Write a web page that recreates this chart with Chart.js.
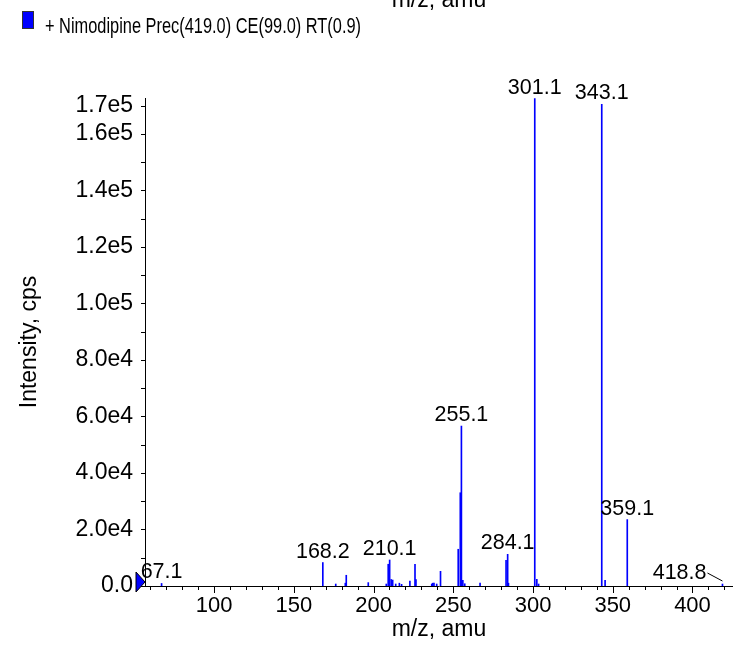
<!DOCTYPE html>
<html>
<head>
<meta charset="utf-8">
<script src="https://cdn.jsdelivr.net/npm/chart.js@4.4.0/dist/chart.umd.min.js"></script>
<style>
  html, body { margin: 0; padding: 0; background: #fff; }
</style>
</head>
<body>
<canvas id="spectrum" width="733" height="645"></canvas>
<script>
Chart.defaults.font.family = "'Liberation Sans', Arial, Helvetica, sans-serif";
Chart.defaults.font.size = 22;
Chart.defaults.color = 'black';

const seriesName = "+ Nimodipine Prec(419.0) CE(99.0) RT(0.9)";
const axisTitleX = "m/z, amu";
const axisTitleY = "Intensity, cps";

// peak list (m/z, cps)
const mzValues = [
  67.1, 168.2, 176.3, 182.3, 182.9, 196.7, 208.0, 209.2, 210.1, 211.1,
  212.0, 213.9, 216.2, 217.6, 222.8, 226.0, 226.6, 236.5, 237.1, 237.9,
  239.6, 242.0, 253.1, 254.4, 255.1, 256.0, 257.2, 266.8, 283.1, 284.1,
  284.6, 301.1, 302.4, 303.5, 343.1, 345.2, 359.1, 418.8
];
const intensities = [
  900, 8300, 700, 1000, 3800, 1200, 700, 7700, 9200, 2300,
  2100, 700, 1000, 600, 1700, 7700, 2300, 700, 1000, 1000,
  700, 5200, 13000, 33000, 56600, 2000, 800, 1000, 9100, 11200,
  1000, 172500, 2400, 700, 170500, 2000, 23500, 700
];
const labelledPeaks = [67.1, 168.2, 210.1, 255.1, 284.1, 301.1, 343.1, 359.1, 418.8];

const xTickLabels = [100, 150, 200, 250, 300, 350, 400];
const yTickValues = [0, 20000, 40000, 60000, 80000, 100000, 120000, 140000, 160000, 170000];
const yTickText = ['0.0', '2.0e4', '4.0e4', '6.0e4', '8.0e4', '1.0e5', '1.2e5', '1.4e5', '1.6e5', '1.7e5'];

const xMin = 56.7, xMax = 425.4, yMax = 172700;

const peakColor = '#0000ff';

const extras = {
  id: 'extras',
  afterDraw(chart) {
    const ctx = chart.ctx;
    const area = chart.chartArea;
    const xs = chart.scales.x, ys = chart.scales.y;
    ctx.save();

    // tick marks
    ctx.strokeStyle = '#000';
    ctx.lineWidth = 1;
    ctx.beginPath();
    xs.ticks.forEach(t => {
      const px = Math.round(xs.getPixelForValue(t.value)) + 0.5;
      const len = t.value % 50 === 0 ? 7 : 4;
      ctx.moveTo(px, area.bottom);
      ctx.lineTo(px, area.bottom + len);
    });
    ys.ticks.forEach(t => {
      const py = Math.round(ys.getPixelForValue(t.value)) + 0.5;
      ctx.moveTo(area.left - 4, py);
      ctx.lineTo(area.left, py);
    });
    ctx.stroke();

    // peak labels
    const meta = chart.getDatasetMeta(0);
    ctx.font = "21.5px 'Liberation Sans', Arial, sans-serif";
    ctx.fillStyle = '#000';
    ctx.textBaseline = 'alphabetic';
    labelledPeaks.forEach(mz => {
      const i = mzValues.indexOf(mz);
      if (i < 0) return;
      const el = meta.data[i];
      const txt = mz.toFixed(1);
      const w = ctx.measureText(txt).width;
      const base = el.y - 5;
      if (el.x + w / 2 > area.right - 4) {
        ctx.textAlign = 'right';
        ctx.fillText(txt, el.x - 16, base);
        ctx.beginPath();
        ctx.moveTo(el.x - 15, base - 6);
        ctx.lineTo(el.x, el.y - 3);
        ctx.strokeStyle = '#000';
        ctx.stroke();
      } else {
        ctx.textAlign = 'center';
        ctx.fillText(txt, el.x, base);
      }
    });

    // precursor marker at origin
    const y0 = ys.getPixelForValue(0) - 4;
    ctx.beginPath();
    ctx.moveTo(area.left - 9, y0 - 10);
    ctx.lineTo(area.left - 9, y0 + 10);
    ctx.lineTo(area.left, y0);
    ctx.closePath();
    ctx.fillStyle = peakColor;
    ctx.fill();
    ctx.strokeStyle = '#000';
    ctx.stroke();

    // legend (condensed)
    ctx.fillStyle = peakColor;
    ctx.fillRect(22, 11, 12, 18);
    ctx.strokeStyle = '#333';
    ctx.strokeRect(22.5, 11.5, 11, 17);
    ctx.font = "22px 'Liberation Sans', Arial, sans-serif";
    ctx.textAlign = 'left';
    ctx.fillStyle = '#000';
    const lw = ctx.measureText(seriesName).width;
    ctx.translate(45, 32.5);
    ctx.scale(316 / lw, 1);
    ctx.fillText(seriesName, 0, 0);
    ctx.setTransform(1, 0, 0, 1, 0, 0);

    // clipped title of the panel above
    ctx.font = "23px 'Liberation Sans', Arial, sans-serif";
    ctx.textAlign = 'center';
    ctx.fillText(axisTitleX, (area.left + area.right) / 2, 6.5);

    ctx.restore();
  }
};

new Chart(document.getElementById('spectrum'), {
  type: 'bar',
  data: {
    datasets: [{
      label: seriesName,
      data: mzValues.map((m, i) => ({ x: m, y: intensities[i] })),
      backgroundColor: peakColor,
      borderWidth: 0,
      barThickness: 1
    }]
  },
  options: {
    responsive: false,
    animation: false,
    layout: { padding: { top: 98, left: 0, right: 0, bottom: 0 } },
    plugins: {
      legend: { display: false },
      tooltip: { enabled: false }
    },
    scales: {
      x: {
        type: 'linear',
        offset: false,
        min: xMin,
        max: xMax,
        grid: { display: false, drawTicks: false },
        border: { display: true, color: '#000', width: 1 },
        afterBuildTicks: s => {
          const t = [];
          for (let v = 60; v <= 420; v += 10) t.push({ value: v });
          s.ticks = t;
        },
        afterFit: s => { s.height = 59; },
        ticks: {
          autoSkip: false,
          maxRotation: 0,
          padding: 7,
          font: { size: 22 },
          callback: v => xTickLabels.includes(v) ? String(v) : ''
        },
        title: { display: true, text: axisTitleX, font: { size: 23 }, padding: { top: 0, bottom: 2 } }
      },
      y: {
        min: 0,
        max: yMax,
        grid: { display: false, drawTicks: false },
        border: { display: true, color: '#000', width: 1 },
        afterBuildTicks: s => {
          const t = [];
          for (let v = 0; v <= 170000; v += 10000) t.push({ value: v });
          s.ticks = t;
        },
        afterFit: s => { s.width = 145; },
        ticks: {
          autoSkip: false,
          padding: 12,
          font: { size: 23 },
          callback: v => {
            const k = yTickValues.indexOf(v);
            return k >= 0 ? yTickText[k] : '';
          }
        },
        title: { display: true, text: axisTitleY, font: { size: 23 }, padding: { top: 16, bottom: 0 } }
      }
    }
  },
  plugins: [extras]
});
</script>
</body>
</html>
